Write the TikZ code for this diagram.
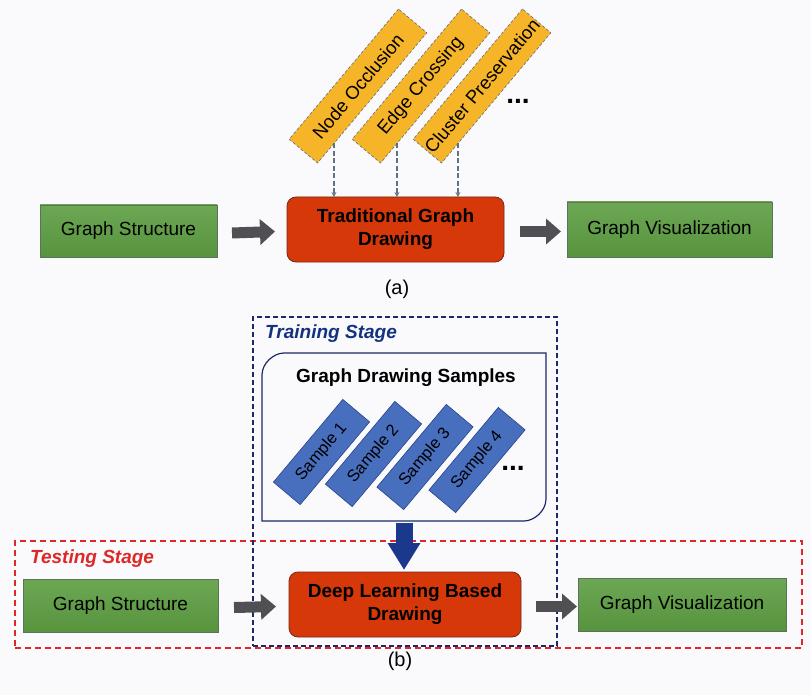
\documentclass[tikz,border=0pt]{standalone}
\usepackage{fontspec}
\setmainfont{Liberation Sans}
\usetikzlibrary{arrows.meta,calc}
\definecolor{bg}{RGB}{250,250,252}
\definecolor{grnT}{RGB}{108,168,84}
\definecolor{grnB}{RGB}{88,148,62}
\definecolor{grnD}{RGB}{90,115,90}
\definecolor{redF}{RGB}{214,56,10}
\definecolor{redD}{RGB}{120,40,20}
\definecolor{orF}{RGB}{246,180,40}
\definecolor{orD}{RGB}{95,110,130}
\definecolor{sampF}{RGB}{72,110,190}
\definecolor{sampD}{RGB}{40,68,140}
\definecolor{arrG}{RGB}{80,80,84}
\definecolor{dashC}{RGB}{92,115,135}
\definecolor{navyA}{RGB}{28,56,140}
\definecolor{navyL}{RGB}{30,40,100}
\definecolor{trainT}{RGB}{20,50,130}
\definecolor{testR}{RGB}{222,40,40}
\newcommand\fA{\fontsize{19pt}{23pt}\selectfont}
\begin{document}
\begin{tikzpicture}[x=1pt,y=-1pt,
  greenbox/.style={draw=grnD, line width=0.8pt, top color=grnT, bottom color=grnB, inner sep=0pt, outer sep=0pt, font=\fA},
  redbox/.style={draw=redD, line width=0.8pt, fill=redF, rounded corners=9pt, inner sep=0pt, outer sep=0pt, align=center, font=\fA\bfseries},
  orbox/.style={draw=orD, densely dashed, line width=0.6pt, fill=orF, rotate=50, minimum width=170pt, minimum height=37pt, inner sep=0pt, outer sep=0pt, font=\fontsize{18.5pt}{20pt}\selectfont},
  sampbox/.style={draw=sampD, fill=sampF, line width=0.6pt, rotate=50, minimum width=108pt, minimum height=35pt, inner sep=0pt, outer sep=0pt, font=\fontsize{16.5pt}{18pt}\selectfont},
  blockarrow/.style={line width=11pt, draw=arrG, -{Triangle[length=15pt,width=25pt]}},
  navyarrow/.style={line width=17pt, draw=navyA, -{Triangle[length=27pt,width=31pt]}},
  dasharrow/.style={draw=dashC, line width=1.2pt, dash pattern=on 5pt off 2.5pt, -{Stealth[length=5pt,width=5pt]}},
  dotsnode/.style={font=\fontsize{28pt}{30pt}\selectfont\bfseries, inner sep=0pt},
  sublabel/.style={font=\fontsize{20pt}{24pt}\selectfont, inner sep=0pt},
  stagelabel/.style={font=\fA\bfseries\itshape, inner sep=0pt, anchor=base west}
]
\fill[bg] (0,0) rectangle (811,695);
\useasboundingbox (0,0) rectangle (811,695);

% ---------- (a) ----------
\node[orbox] (o1) at (358,86) {Node Occlusion};
\node[orbox] (o2) at (421,86) {Edge Crossing};
\node[orbox] (o3) at (482,86) {Cluster Preservation};
\node[dotsnode] (dotsa) at (518,101) {...};

\node[greenbox, minimum width=177pt, minimum height=52pt] (gs1) at (128.5,231) {Graph Structure};
\node[redbox, minimum width=217pt, minimum height=65pt] (trad) at (395.5,229.5) {Traditional Graph\\Drawing};
\node[greenbox, minimum width=205pt, minimum height=55pt] (gv1) at (669.5,229.5) {Graph Visualization};

\coordinate (d1) at ($(o1.south west)!0.15!(o1.south east)$);
\coordinate (d2) at ($(o2.south west)!0.15!(o2.south east)$);
\coordinate (d3) at ($(o3.south west)!0.15!(o3.south east)$);
\draw[dasharrow] (d1) -- (d1 |- trad.north);
\draw[dasharrow] (d2) -- (d2 |- trad.north);
\draw[dasharrow] (d3) -- (d3 |- trad.north);

\draw[blockarrow] ([xshift=15pt,yshift=-2pt]gs1.east) -- ([xshift=-12pt,yshift=-2pt]trad.west);
\draw[blockarrow] ([xshift=16pt,yshift=-2pt]trad.east) -- ([xshift=-6pt,yshift=-2pt]gv1.west);

\node[sublabel] (la) at (397,289) {(a)};

% ---------- (b) ----------
\node[draw=testR, line width=1.5pt, dash pattern=on 6pt off 4pt, minimum width=787pt, minimum height=107pt, inner sep=0pt] (test) at (408.5,594.5) {};
\node[draw=navyL, line width=1.3pt, dash pattern=on 5pt off 3pt, minimum width=304pt, minimum height=329pt, inner sep=0pt] (train) at (405,481.5) {};
\node[stagelabel, text=trainT] (trainlab) at (265,338) {Training Stage};
\node[stagelabel, text=testR] (testlab) at (30,563) {Testing Stage};

\draw[navyL, line width=1.2pt] (262,521) -- (262,375)
  .. controls (262,362.9) and (274.1,353) .. (284,353) -- (546,353) -- (546,499)
  .. controls (546,511.1) and (533.9,521) .. (524,521) -- cycle;
\node[font=\fA\bfseries, inner sep=0pt, anchor=base] (gdstitle) at (406,382) {Graph Drawing Samples};

\node[sampbox] (s1) at (321.5,452) {Sample 1};
\node[sampbox] (s2) at (373.5,454) {Sample 2};
\node[sampbox] (s3) at (425,457) {Sample 3};
\node[sampbox] (s4) at (477,460) {Sample 4};
\node[dotsnode] (dotsb) at (513,468) {...};

\node[greenbox, minimum width=195pt, minimum height=53pt] (gs2) at (120.5,605.5) {Graph Structure};
\node[redbox, minimum width=232pt, minimum height=65pt] (deep) at (405,604.5) {Deep Learning Based\\Drawing};
\node[greenbox, minimum width=208pt, minimum height=53pt] (gv2) at (682,604.5) {Graph Visualization};

\coordinate (sampbot) at (404,523);
\draw[navyarrow] (sampbot) -- ([yshift=2pt]deep.north -| sampbot);

\draw[blockarrow] ([xshift=16pt,yshift=-2pt]gs2.east) -- ([xshift=-13pt,yshift=-2pt]deep.west);
\draw[blockarrow] ([xshift=15pt,yshift=-2pt]deep.east) -- ([xshift=-1pt,yshift=-2pt]gv2.west);

\node[sublabel] (lb) at (400,661) {(b)};
\end{tikzpicture}
\end{document}
